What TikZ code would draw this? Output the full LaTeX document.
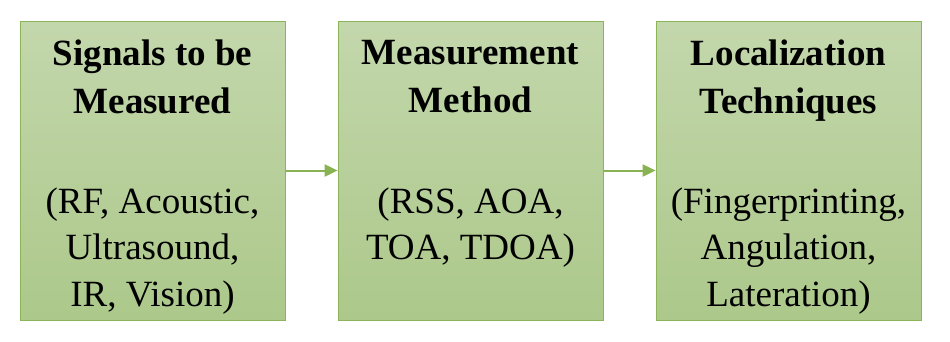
\documentclass[tikz,border=0pt]{standalone}
\usepackage{fontspec}
\setmainfont{Liberation Serif}
\usetikzlibrary{arrows.meta}
\definecolor{boxtop}{RGB}{195,215,172}
\definecolor{boxbot}{RGB}{172,200,138}
\definecolor{boxline}{RGB}{140,180,88}
\definecolor{arrowc}{RGB}{137,178,82}
\begin{document}
\begin{tikzpicture}[x=1pt,y=-1pt,
  stage/.style={draw=boxline, line width=0.8pt, top color=boxtop, bottom color=boxbot,
    minimum width=265pt, minimum height=299pt, inner sep=0pt},
  title/.style={font=\fontsize{37}{48}\selectfont\bfseries, align=center, anchor=north, inner sep=0pt},
  body/.style={font=\fontsize{37}{46.5}\selectfont, align=center, anchor=north, inner sep=0pt},
  flow/.style={draw=arrowc, line width=2pt, -{Triangle[length=13pt,width=12pt]}}]
  \fill[white] (0,0) rectangle (950,341);
  \useasboundingbox (0,0) rectangle (950,341);

  % the three stages
  \node[stage] (sig)  at (152.5,170.5) {};
  \node[stage] (meas) at (470.5,170.5) {};
  \node[stage] (loc)  at (788.5,170.5) {};

  % headings
  \node[title] (sigT)  at (152.5,40) {Signals to be\\Measured};
  \node[title] (measT) at (470.5,40) {Measurement\\Method};
  \node[title] (locT)  at (788.5,40) {Localization\\Techniques};

  % details
  \node[body] (sigB)  at (152.5,187.3) {(RF, Acoustic,\\Ultrasound,\\IR, Vision)};
  \node[body] (measB) at (470.5,187.3) {(RSS, AOA,\\TOA, TDOA)};
  \node[body] (locB)  at (788.5,187.3) {(Fingerprinting,\\Angulation,\\Lateration)};

  % flow between stages
  \draw[flow] (sig.east) -- (meas.west);
  \draw[flow] (meas.east) -- (loc.west);
\end{tikzpicture}
\end{document}
